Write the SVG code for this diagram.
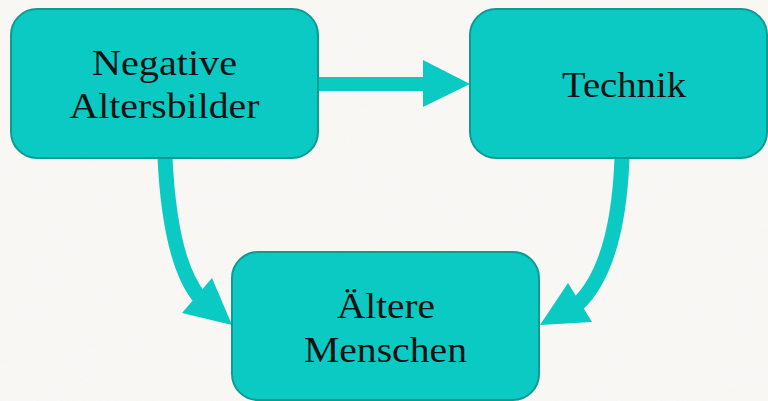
<svg xmlns="http://www.w3.org/2000/svg" width="768" height="401" viewBox="0 0 768 401">
<defs>
<filter id="paper" x="0" y="0" width="100%" height="100%">
<feTurbulence type="fractalNoise" baseFrequency="0.02 0.06" numOctaves="3" seed="4" result="n"/>
<feColorMatrix type="matrix" values="0 0 0 0 0.93  0 0 0 0 0.92  0 0 0 0 0.9  0 0 0 0.9 -0.25"/>
</filter>
</defs>
<style>
.node{fill:#0acac3;stroke:#0f9a94;stroke-width:2}
.lbl{font-family:"Liberation Serif","Times New Roman",serif;font-size:36px;fill:#111;text-anchor:middle}
.shaft{fill:none;stroke:#0acac3;stroke-width:15}
.head{fill:#0acac3}
</style>
<rect width="768" height="401" fill="#f8f7f4"/>
<rect width="768" height="401" filter="url(#paper)" opacity="0.5"/>
<g id="connectors">
<rect class="head" x="317" y="77" width="108" height="14"/>
<polygon class="head" points="423,60 470,84 423,107"/>
<path class="shaft" d="M165,158 Q170,262 200,298"/>
<polygon class="head" points="182,313 212,278 232,325"/>
<path class="shaft" d="M622,158 Q618,265 578,304"/>
<polygon class="head" points="568,283 592,322 540,325"/>
</g>
<g id="node-negative">
<rect class="node" x="11" y="9" width="307" height="149" rx="26"/>
<text class="lbl" x="164.5" y="75" textLength="145" lengthAdjust="spacingAndGlyphs">Negative</text>
<text class="lbl" x="164.5" y="118" textLength="190" lengthAdjust="spacingAndGlyphs">Altersbilder</text>
</g>
<g id="node-technik">
<rect class="node" x="470" y="9" width="297" height="149" rx="26"/>
<text class="lbl" x="624" y="97" textLength="124" lengthAdjust="spacingAndGlyphs">Technik</text>
</g>
<g id="node-aeltere">
<rect class="node" x="232" y="252" width="307" height="148" rx="26"/>
<text class="lbl" x="386" y="318" textLength="98" lengthAdjust="spacingAndGlyphs">Ältere</text>
<text class="lbl" x="385.5" y="362" textLength="163" lengthAdjust="spacingAndGlyphs">Menschen</text>
</g>
</svg>
